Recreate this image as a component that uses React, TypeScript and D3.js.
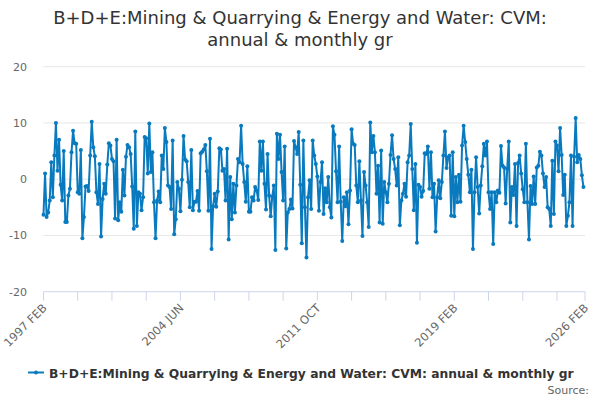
import React from "react";
import * as d3 from "d3";

const TITLE_LINES = ["B+D+E:Mining & Quarrying & Energy and Water: CVM:", "annual & monthly gr"];
const SERIES_NAME = "B+D+E:Mining & Quarrying & Energy and Water: CVM: annual & monthly gr";
const MONTHS = ["JAN", "FEB", "MAR", "APR", "MAY", "JUN", "JUL", "AUG", "SEP", "OCT", "NOV", "DEC"];
const START_YEAR = 1997;
const START_MONTH = 1; // FEB
const CATEGORY_COUNT = 349;
const Y_TICKS = [-20, -10, 0, 10, 20];
const TICK_EVERY = 22;
const LABEL_EVERY = 88;

const values: number[] = [
  // 1997 FEB ...
  -6.3, 1.0, -6.7, -5.9, -3.8, 3.0, -3.2, 4.2, 10.0, 1.5, 7.0, -1.0, -3.8, 5.0, -7.6, -7.6, -2.9, -1.7, 4.8, 8.6, 6.4, 6.3,
  -2.3, -2.6, 5.2, -10.5, -6.7, -1.3, -1.2, -2.1, 4.2, 10.2, 5.7, 4.1, -2.3, -4.4, 2.7, -10.2, -3.5, -0.8, -2.6, 2.6, 6.4,
  6.0, 3.6, 3.2, -7.0, 7.0, -7.3, -4.1, -5.8, 1.7, -2.9, 4.0, 6.1, 5.7, 4.5, -1.3, -8.8, 8.5, -8.3, -2.3, -2.6, -5.5, -3.2,
  7.5, 7.3, 1.0, 9.9, 1.3, 4.8, -4.1, -10.5, -3.8, -2.2, -4.1, 4.2, 1.8, 9.1, 6.6, -1.1, -1.4, -5.3, 6.9, -9.8,
  -7.1, -0.5, -1.7, -5.7, -0.1, 7.7, 3.5, 3.2, -0.5, -5.0, 5.2, -5.5, -4.0, -4.0, -2.1, -5.6, 4.6, 4.9, 5.3, 6.1, 1.4, -5.6,
  7.2, -12.4, -4.8, -2.6, -4.9, -2.2, 5.5, 5.3, 1.5, 1.8, -3.8, 5.4, -10.7, 0.4, -7.1, -0.8, -5.9, -1.1, 3.6, 3.0, 9.5, 2.7, -0.5,
  -4.0, 2.3, -5.8, -5.8, -3.2, -3.8, -1.4, -2.0, -3.7, 6.7, 1.5, 6.7, -0.8, -5.4, 4.5, -2.9, -6.6, -3.1, -1.1, -12.6, 8.1, 3.6,
  7.9, 1.3, -3.8, 5.8, -12.3, -5.9, -5.3, -3.6, -5.2, 6.8, 5.7, 4.5, 8.4, -1.0, -11.4, 6.9, -5.0, -13.9, -3.2, -0.2, -5.3, 6.9,
  4.2, 2.7, 0.5, -5.6, -0.5, 3.0, -6.2, -1.6, -4.1, 0.4, -5.0, -6.8, 9.4, 7.9, 1.4, -4.1, 5.8, -4.0, -11.0, -3.2, -4.8, -2.3,
  -8.0, -2.0, 8.9, 6.3, 6.1, -1.1, -4.1, 3.2, -3.8, -10.1, 1.3, -1.1, -4.1, -8.5, 10.1, 4.8, 7.7, 4.8, -2.6, 2.4, -7.7, 5.1,
  -7.9, -0.5, -2.3, -4.1, -0.8, 4.3, 7.8, 3.6, 1.8, -1.1, 3.9, -8.2, -3.8, -2.6, -0.8, -3.1, 3.0, 4.2, 9.8, 1.8, -5.5, 2.7,
  -11.3, -1.0, -1.4, -3.1, -2.1, 4.6, 4.5, 5.8, -1.7, 4.8, -3.2, -0.8, -9.3, -3.2, -0.2, -3.4, -0.5, 4.2, 8.5, 2.0, 3.9,
  4.2, -6.5, 4.8, -6.6, 0.4, -4.1, 0.8, -4.0, 6.0, 9.5, 6.6, 3.6, 0.8, -2.3, 1.7, -12.4, -2.3, 3.9, -1.4, -6.1, -1.1, 2.3,
  6.3, 4.2, 6.7, -2.3, -5.3, -2.3, -11.5, -2.3, -4.1, -2.0, -2.4, 5.9, 2.4, 2.1, -4.3, 1.8, 6.7, -7.7, -1.4, -2.8, 2.7, -8.3,
  2.9, 4.2, 1.0, -1.8, -4.1, 6.3, -4.1, -10.7, -1.2, -4.4, 0.5, -4.4, 2.1, 2.4, 4.9, 4.2, 1.0, -1.4, 0.4, -5.0, -5.3, -8.3,
  3.3, -6.2, 6.7, 6.0, 1.4, 9.1, 4.3, -2.8, 0.8, -8.3, -6.5, -4.1, 4.2, -8.3, 4.0, 10.9, 3.0, 4.3, 3.6, 0.7, -1.4,
];

const categories: string[] = d3.range(CATEGORY_COUNT).map((i) => {
  const m = START_MONTH + i;
  return `${START_YEAR + Math.floor(m / 12)} ${MONTHS[m % 12]}`;
});

const W = 600;
const H = 400;
const LEFT = 43.5;
const RIGHT = 585;
const TOP = 66.7;
const BOTTOM = 291.7;
const COLOR = "#0a7abf";
const FONT = "'DejaVu Sans', Verdana, sans-serif";

export default function App() {
  const x = d3.scaleLinear().domain([0, CATEGORY_COUNT - 1]).range([LEFT, RIGHT]);
  const y = d3.scaleLinear().domain([-20, 20]).range([BOTTOM, TOP]);
  const pts = values.map((v, i) => ({ i, v }));
  const line = d3
    .line<{ i: number; v: number }>()
    .x((d) => x(d.i))
    .y((d) => y(d.v));

  const tickIdx = d3.range(0, CATEGORY_COUNT, TICK_EVERY).concat([CATEGORY_COUNT - 1]);
  const labelIdx = d3.range(0, CATEGORY_COUNT - 1, LABEL_EVERY).concat([CATEGORY_COUNT - 1]);

  return (
    <svg
      width={W}
      height={H}
      style={{ position: "absolute", left: 0, top: 0, background: "#fff" }}
      fontFamily={FONT}
    >
      <rect width={W} height={H} fill="#fff" />
      {TITLE_LINES.map((t, k) => (
        <text key={k} x={W / 2} y={24 + k * 22} textAnchor="middle" fontSize={18} fill="#333">
          {t}
        </text>
      ))}
      {Y_TICKS.map((t) => (
        <g key={t}>
          {t !== -20 && <line x1={LEFT} x2={RIGHT} y1={y(t)} y2={y(t)} stroke="#e6e6e6" strokeWidth={1} />}
          <text x={27} y={y(t) + 4} textAnchor="end" fontSize={11} fill="#666">
            {t}
          </text>
        </g>
      ))}
      <line x1={LEFT} x2={RIGHT} y1={BOTTOM} y2={BOTTOM} stroke="#ccd6eb" strokeWidth={1} />
      {tickIdx.map((i) => (
        <line key={i} x1={x(i)} x2={x(i)} y1={BOTTOM} y2={BOTTOM + 9} stroke="#ccd6eb" strokeWidth={1} />
      ))}
      {labelIdx.map((i) => (
        <text
          key={i}
          transform={`translate(${x(i) + 4},${BOTTOM + 17}) rotate(-45)`}
          textAnchor="end"
          fontSize={11.5}
          fill="#666"
        >
          {categories[i]}
        </text>
      ))}
      <path d={line(pts) || ""} fill="none" stroke={COLOR} strokeWidth={2} strokeLinejoin="round" />
      {pts.map((d) => (
        <circle key={d.i} cx={x(d.i)} cy={y(d.v)} r={2} fill={COLOR} />
      ))}
      <g>
        <line x1={28} x2={44} y1={372.5} y2={372.5} stroke={COLOR} strokeWidth={2} />
        <circle cx={36} cy={372.5} r={2} fill={COLOR} />
        <text x={49} y={377.5} fontSize={12.3} fontWeight="bold" fill="#333">
          {SERIES_NAME}
        </text>
      </g>
      <text x={589} y={394} textAnchor="end" fontSize={11} fill="#666">
        Source:
      </text>
    </svg>
  );
}
